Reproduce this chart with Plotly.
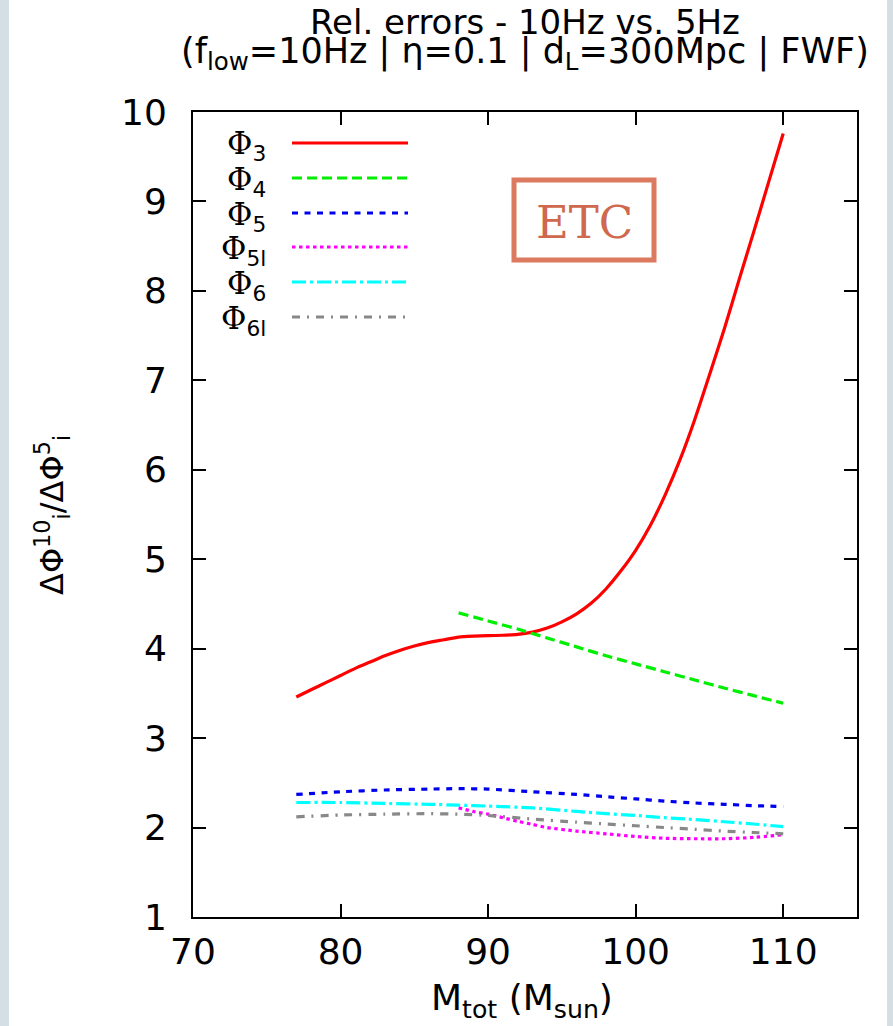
import plotly.graph_objects as go

# ---------------- data ----------------
mass_phi3 = [77, 78, 79, 80, 81, 82, 83, 84, 85, 86, 87, 88, 89, 90, 91, 92, 93, 94,
             95, 96, 97, 98, 99, 100, 101, 102, 103, 104, 105, 106, 107, 108, 109, 110]
phi3 = [3.46, 3.54, 3.62, 3.70, 3.78, 3.85, 3.92, 3.98, 4.03, 4.07, 4.10, 4.13, 4.14,
        4.145, 4.15, 4.16, 4.185, 4.23, 4.30, 4.39, 4.51, 4.67, 4.87, 5.10, 5.38, 5.72,
        6.11, 6.56, 7.06, 7.57, 8.12, 8.66, 9.21, 9.76]

mass_phi4 = [88, 90, 92, 94, 96, 98, 100, 102, 104, 106, 108, 110]
phi4 = [4.40, 4.31, 4.22, 4.12, 4.02, 3.92, 3.83, 3.74, 3.65, 3.56, 3.475, 3.39]

mass_low = [77, 80, 83, 86, 88, 90, 93, 96, 98, 100, 102, 104, 106, 108, 110]
phi5 = [2.37, 2.40, 2.42, 2.43, 2.435, 2.43, 2.40, 2.37, 2.345, 2.32, 2.295, 2.275,
        2.26, 2.245, 2.235]
phi6 = [2.28, 2.28, 2.27, 2.26, 2.25, 2.24, 2.22, 2.18, 2.155, 2.135, 2.11, 2.09,
        2.065, 2.04, 2.01]
phi6l = [2.12, 2.14, 2.15, 2.155, 2.15, 2.135, 2.095, 2.06, 2.04, 2.02, 2.00, 1.98,
         1.96, 1.945, 1.93]

mass_phi5l = [88, 89, 90, 91, 92, 93, 94, 96, 98, 100, 102, 104, 106, 108, 110]
phi5l = [2.22, 2.18, 2.15, 2.11, 2.07, 2.035, 2.00, 1.96, 1.93, 1.90, 1.88, 1.875,
         1.875, 1.89, 1.92]

series_subs = ["3", "4", "5", "5l", "6", "6l"]
x_ticks = [70, 80, 90, 100, 110]
y_ticks = [1, 2, 3, 4, 5, 6, 7, 8, 9, 10]

# ---------------- styles ----------------
W, H = 893, 1026
ML, MR, MT, MB = 193, 36, 112, 109
PW, PH = W - ML - MR, H - MT - MB
SANS = "DejaVu Sans"
SERIF = "DejaVu Serif"

colors = ["#ff0000", "#00ee00", "#0000ee", "#ff00ff", "#00ffff", "#888888"]
dashes = ["solid", "10px,5px", "6px,6.5px", "3.5px,3.5px",
          "14px,4px,3px,4px", "8px,7px,2px,7px"]
lw = 3.2

xs = [mass_phi3, mass_phi4, mass_low, mass_phi5l, mass_low, mass_low]
ys = [phi3, phi4, phi5, phi5l, phi6, phi6l]

fig = go.Figure()
for i in range(6):
    fig.add_trace(go.Scatter(
        x=xs[i], y=ys[i], mode="lines",
        line=dict(color=colors[i], width=lw, dash=dashes[i], shape="spline", smoothing=0.6),
        name="Φ" + series_subs[i], showlegend=False))

def px_x(p):
    return (p - ML) / PW

def px_y(p):
    return 1 - (p - MT) / PH

shapes = []
annotations = []

# manual legend (text left, sample right, like gnuplot)
row_y = [143, 178, 213, 247, 282, 317]
for i in range(6):
    yy = px_y(row_y[i])
    shapes.append(dict(type="line", xref="paper", yref="paper",
                       x0=px_x(292), x1=px_x(408), y0=yy, y1=yy,
                       line=dict(color=colors[i], width=lw, dash=dashes[i])))
    annotations.append(dict(
        xref="paper", yref="paper", x=px_x(268), y=px_y(row_y[i] + 3),
        xanchor="right", yanchor="middle", showarrow=False,
        text="Φ<sub><span style='font-family:" + SANS + "'>" + series_subs[i] + "</span></sub>",
        font=dict(family=SERIF, size=31, color="black")))

# ETC box
shapes.append(dict(type="rect", xref="paper", yref="paper",
                   x0=px_x(514), x1=px_x(654), y0=px_y(180), y1=px_y(260),
                   line=dict(color="#db7a5f", width=5)))
annotations.append(dict(xref="paper", yref="paper", x=px_x(584), y=px_y(222),
                        xanchor="center", yanchor="middle", showarrow=False,
                        text="ETC", font=dict(family=SERIF, size=45, color="#cf684d")))

# side strips
shapes.append(dict(type="rect", xref="paper", yref="paper", layer="below",
                   x0=px_x(0), x1=px_x(9), y0=px_y(H), y1=px_y(0),
                   fillcolor="#d3dee5", line=dict(width=0)))
shapes.append(dict(type="rect", xref="paper", yref="paper", layer="below",
                   x0=px_x(887), x1=px_x(W), y0=px_y(H), y1=px_y(0),
                   fillcolor="#d3dee5", line=dict(width=0)))

# titles
annotations.append(dict(xref="paper", yref="paper", x=px_x(525), y=px_y(22),
                        xanchor="center", yanchor="middle", showarrow=False,
                        text="Rel. errors - 10Hz vs. 5Hz",
                        font=dict(family=SANS, size=34, color="black")))
annotations.append(dict(xref="paper", yref="paper", x=px_x(525), y=px_y(54),
                        xanchor="center", yanchor="middle", showarrow=False,
                        text="(f<sub>low</sub>=10Hz | η=0.1 | d<sub>L</sub>=300Mpc | FWF)",
                        font=dict(family=SANS, size=35, color="black")))
annotations.append(dict(xref="paper", yref="paper", x=px_x(522), y=px_y(1000),
                        xanchor="center", yanchor="middle", showarrow=False,
                        text="M<sub>tot</sub> (M<sub>sun</sub>)",
                        font=dict(family=SANS, size=36, color="black")))
annotations.append(dict(xref="paper", yref="paper", x=px_x(52), y=px_y(515),
                        xanchor="center", yanchor="middle", showarrow=False, textangle=-90,
                        text="ΔΦ<sup>10</sup><sub>i</sub>/ΔΦ<sup>5</sup><sub>i</sub>",
                        font=dict(family=SANS, size=32, color="black")))

axis_common = dict(showgrid=False, zeroline=False, showline=True, linecolor="black",
                   linewidth=2, mirror="allticks", ticks="inside", ticklen=13,
                   tickwidth=2, tickcolor="black",
                   tickfont=dict(family=SANS, size=36, color="black"))

fig.update_layout(
    width=W, height=H,
    margin=dict(l=ML, r=MR, t=MT, b=MB),
    paper_bgcolor="white", plot_bgcolor="white",
    xaxis=dict(range=[70, 115], tickvals=x_ticks, ticklabelstandoff=2, **axis_common),
    yaxis=dict(range=[1, 10], tickvals=y_ticks, ticklabelstandoff=17, **axis_common),
    shapes=shapes, annotations=annotations,
)

fig.write_html("out.html")
